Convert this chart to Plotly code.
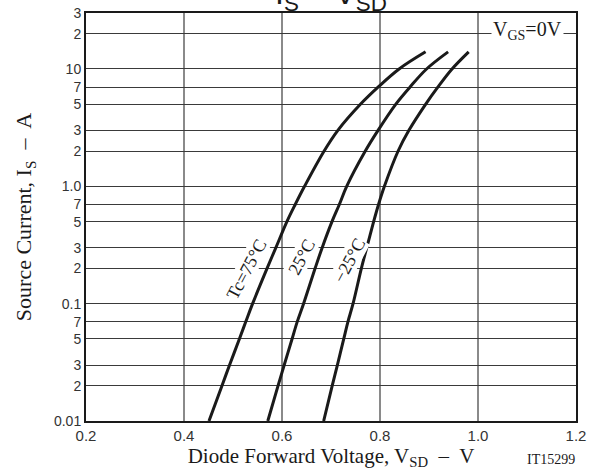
import numpy as np
import plotly.graph_objects as go

# Data
current = [0.01, 0.02, 0.03, 0.05, 0.07, 0.1, 0.2, 0.3, 0.5, 0.7, 1.0, 2, 3, 5, 7, 10, 14]
v_75 = [0.451, 0.4775, 0.493, 0.513, 0.526, 0.540, 0.5695, 0.5875, 0.610, 0.627, 0.646, 0.686, 0.714, 0.760, 0.796, 0.839, 0.893]
v_25 = [0.571, 0.592, 0.6045, 0.6205, 0.631, 0.644, 0.6676, 0.682, 0.702, 0.717, 0.732, 0.770, 0.796, 0.832, 0.861, 0.895, 0.939]
v_m25 = [0.685, 0.7025, 0.713, 0.726, 0.7345, 0.745, 0.762, 0.773, 0.787, 0.797, 0.809, 0.837, 0.859, 0.893, 0.918, 0.947, 0.981]

x_ticks = [0.2, 0.4, 0.6, 0.8, 1.0, 1.2]
x_ticktext = ["0.2", "0.4", "0.6", "0.8", "1.0", "1.2"]
y_ticks = [0.01, 0.02, 0.03, 0.05, 0.07, 0.1, 0.2, 0.3, 0.5, 0.7, 1, 2, 3, 5, 7, 10, 20, 30]
y_ticktext = ["0.01", "2", "3", "5", "7", "0.1", "2", "3", "5", "7", "1.0", "2", "3", "5", "7", "10", "2", "3"]

serif = "Liberation Serif, Times New Roman, serif"
sans = "Liberation Sans, Arial, sans-serif"

fig = go.Figure()
for v in (v_75, v_25, v_m25):
    fig.add_trace(go.Scatter(x=v, y=current, mode="lines",
                             line=dict(color="#1a1a1a", width=3, shape="spline", smoothing=1.0),
                             showlegend=False, hoverinfo="skip"))

labels = [("Tc=75°C", 0.528, 0.197), ("25°C", 0.640, 0.25), ("−25°C", 0.737, 0.231)]
for txt, x, y in labels:
    fig.add_annotation(x=x, y=np.log10(y), xref="x", yref="y", text=txt, showarrow=False,
                       textangle=-62, font=dict(family=serif, size=18, color="#1a1a1a"),
                       bgcolor="white", borderpad=0)

fig.add_annotation(x=1.101, y=np.log10(21.2), xref="x", yref="y",
                   text="V<sub>GS</sub>=0V", showarrow=False,
                   font=dict(family=serif, size=20, color="#1a1a1a"), bgcolor="white", borderpad=1)

fig.add_annotation(x=0.5, y=1 - 5 / 408, xref="paper", yref="paper", yanchor="bottom",
                   text="I<sub>S</sub> – V<sub>SD</sub>", showarrow=False,
                   font=dict(family=sans, size=32, color="#1a1a1a"))

fig.add_annotation(x=(551 - 86) / 490, y=-(459 - 421) / 408, xref="paper", yref="paper",
                   xanchor="center", yanchor="middle",
                   text="IT15299", showarrow=False,
                   font=dict(family=serif, size=14, color="#1a1a1a"))

fig.update_layout(
    width=605, height=475,
    margin=dict(l=86, r=29, t=13, b=54, autoexpand=False),
    paper_bgcolor="white", plot_bgcolor="white",
    xaxis=dict(range=[0.2, 1.2], tickvals=x_ticks, ticktext=x_ticktext,
               showgrid=True, gridcolor="#8a8a8a", gridwidth=1.5, zeroline=False,
               showline=True, linecolor="#1a1a1a", linewidth=2, mirror=True,
               ticks="", tickfont=dict(family=sans, size=15, color="#333"),
               title=dict(text="Diode Forward Voltage, V<sub>SD</sub>  –  V",
                          font=dict(family=serif, size=21, color="#1a1a1a"), standoff=4)),
    yaxis=dict(type="log", range=[-2, np.log10(30)], tickvals=y_ticks, ticktext=y_ticktext,
               showgrid=True, gridcolor="#3a3a3a", gridwidth=1.2, zeroline=False,
               showline=True, linecolor="#1a1a1a", linewidth=2, mirror=True,
               ticks="", tickfont=dict(family=sans, size=14, color="#333"),
               title=dict(text="Source Current, I<sub>S</sub>  –  A",
                          font=dict(family=serif, size=22, color="#1a1a1a"), standoff=16)),
)

fig.write_html("out.html", config={"displayModeBar": False},
               post_script="document.body.style.margin='0';")
